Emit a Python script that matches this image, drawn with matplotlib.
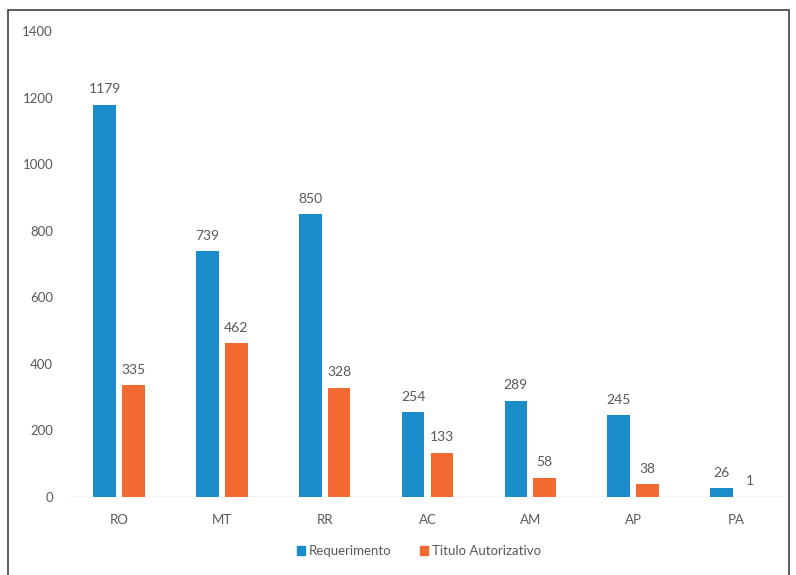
import matplotlib
matplotlib.use("Agg")
import matplotlib.pyplot as plt
from matplotlib.patches import Rectangle, Patch
import numpy as np

categories = ["RO", "MT", "RR", "AC", "AM", "AP", "PA"]
requerimento = [1179, 739, 850, 254, 289, 245, 26]
titulo = [335, 462, 328, 133, 58, 38, 1]
series_names = ["Requerimento", "Titulo Autorizativo"]
yticks = [0, 200, 400, 600, 800, 1000, 1200, 1400]

blue = "#1a8cc9"
orange = "#f26a32"
text_gray = "#595959"

plt.rcParams["font.family"] = ["Lato", "DejaVu Sans"]

fig = plt.figure(figsize=(7.96, 5.75), dpi=100)
ax = fig.add_axes([0.085, 0.1357, 0.904, 0.8103])

x = np.arange(len(categories))
w = 0.22
off = 0.14
b1 = ax.bar(x - off, requerimento, w, color=blue, label=series_names[0])
b2 = ax.bar(x + off, titulo, w, color=orange, label=series_names[1])

for bars, vals in ((b1, requerimento), (b2, titulo)):
    for r, v in zip(bars, vals):
        ax.text(r.get_x() + r.get_width() / 2, v + 28, str(v),
                ha="center", va="bottom", fontsize=10, color=text_gray)

ax.set_xlim(-0.5, len(categories) - 0.5)
ax.set_ylim(0, 1400)
ax.set_yticks(yticks)
ax.set_xticks(x)
ax.set_xticklabels(categories)
ax.tick_params(axis="both", length=0, colors=text_gray, labelsize=9.5)
ax.tick_params(axis="x", pad=12)
ax.tick_params(axis="y", pad=10.5)
for s in ax.spines.values():
    s.set_visible(False)
ax.axhline(0, color="#d9d9d9", linewidth=1, zorder=0)

handles = [Patch(color=blue), Patch(color=orange)]
fig.legend(handles, series_names, loc="center", bbox_to_anchor=(419 / 796, 1 - 551 / 575),
           ncol=2, frameon=False, fontsize=9.5, handlelength=0.6, handleheight=0.6,
           handletextpad=0.3, columnspacing=2.2, labelcolor=text_gray)

fig.patches.append(Rectangle((8 / 796, -0.05), (789 - 8) / 796, 1.05 - 10 / 575,
                             transform=fig.transFigure, fill=False,
                             edgecolor="#404040", linewidth=1.2))

fig.savefig("out.png", dpi=100)
